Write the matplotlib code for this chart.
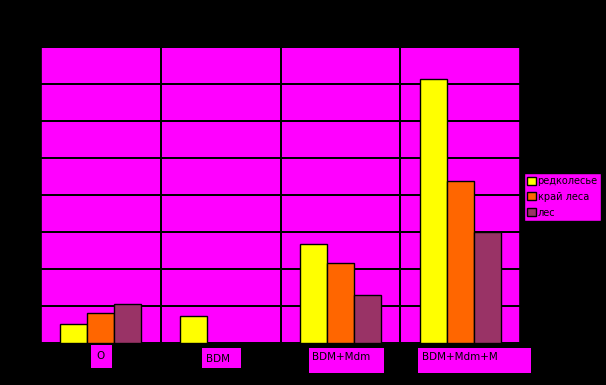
import numpy as np
import matplotlib
matplotlib.use('Agg')
import matplotlib.pyplot as plt

categories = ['O', 'BDM', 'BDM+Mdm', 'BDM+Mdm+M']
series = ['редколесье', 'край леса', 'лес']
redkolesye = [0.50, 0.72, 2.68, 7.14]
krai_lesa = [0.79, 0.0, 2.14, 4.36]
les = [1.03, 0.0, 1.28, 2.98]

colors = ['#FFFF00', '#FF6600', '#993366']
W, H = 606, 385

fig = plt.figure(figsize=(W / 100, H / 100), dpi=100, facecolor='black')
ax = fig.add_axes([41 / W, 1 - 342.5 / H, 479 / W, 295.5 / H])
ax.set_facecolor('#FF00FF')

x = np.arange(len(categories))
bw = 0.225
for i, (vals, c, name) in enumerate(zip([redkolesye, krai_lesa, les], colors, series)):
    v = np.array(vals)
    m = v > 0
    ax.bar(x[m] + (i - 1) * bw, v[m], bw, color=c, edgecolor='black',
           linewidth=1.0, label=name, zorder=3)

ax.set_xlim(-0.5, 3.5)
ax.set_ylim(0, 8)
ax.set_yticks(np.arange(0, 9, 1))
ax.set_xticks([0.5, 1.5, 2.5], minor=False)
ax.grid(True, color='black', linewidth=1.44, zorder=1, snap=True)
ax.set_axisbelow(True)
ax.tick_params(length=0, labelleft=False, labelbottom=False)
for s in ax.spines.values():
    s.set_color('black')
    s.set_linewidth(1.2)

# category labels in magenta boxes
boxes = [(91, 345, 112, 368), (202, 348, 241, 368),
         (309, 348, 384, 373), (418, 348, 531, 373)]
text_pos = [(96, 356), (206, 359), (312, 357), (422, 357)]
for lab, (x0, y0, x1, y1), (tx, ty) in zip(categories, boxes, text_pos):
    fig.patches.append(plt.Rectangle((x0 / W, 1 - y1 / H), (x1 - x0) / W, (y1 - y0) / H,
                                     transform=fig.transFigure, facecolor='#FF00FF',
                                     edgecolor='none'))
    fig.text(tx / W, 1 - ty / H, lab, fontsize=7.5, color='black',
             ha='left', va='center')

leg = fig.legend(loc='upper left', bbox_to_anchor=(524 / W, 1 - 173 / H),
                 fontsize=7, facecolor='#FF00FF', edgecolor='black',
                 fancybox=False, framealpha=1, handlelength=0.9, handleheight=0.9,
                 handletextpad=0.2, borderpad=0.3, labelspacing=0.6,
                 borderaxespad=0)
for t in leg.get_texts():
    t.set_color('black')

fig.savefig('out.png', dpi=100, facecolor='black')
